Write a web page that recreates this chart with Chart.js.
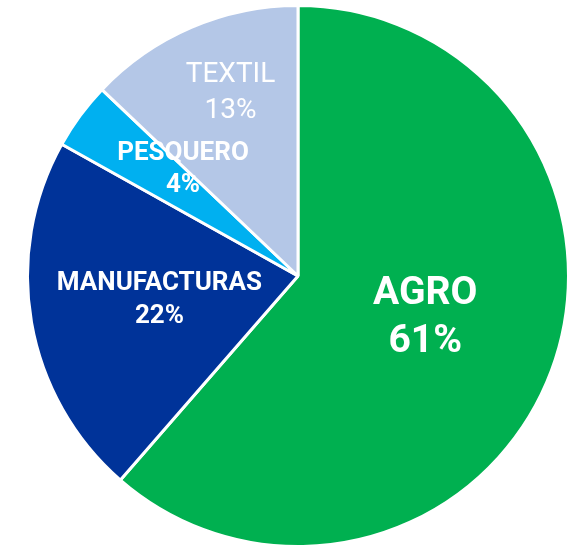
<!DOCTYPE html>
<html>
<head>
<meta charset="utf-8">
<script src="https://cdn.jsdelivr.net/npm/chart.js@4/dist/chart.umd.min.js"></script>
<style>
  body { margin: 0; background: #fff; }
  canvas { display: block; }
</style>
</head>
<body>
<canvas id="chart" width="580" height="548"></canvas>
<script>
const sectors = ["AGRO", "MANUFACTURAS", "PESQUERO", "TEXTIL"];
// shares; labels show them rounded
const shares = [61.4, 21.7, 4.0, 12.9];
const colors = ["#00B050", "#003399", "#00B0F0", "#B4C7E7"];

// label look per slice: font, line gap, radius fraction, angle nudge (deg)
const labelStyle = [
  { font: "bold 39px Roboto", gap: 48, r: 0.495, turn: -2.3 },
  { font: "bold 26px Roboto", gap: 33, r: 0.52, turn: 0 },
  { font: "bold 26px Roboto", gap: 32, r: 0.58, turn: 6.5 },
  { font: "28px Roboto", gap: 36, r: 0.722, turn: 3 },
];

const sliceLabels = {
  id: "sliceLabels",
  afterDatasetsDraw(chart) {
    const ctx = chart.ctx;
    const meta = chart.getDatasetMeta(0);
    meta.data.forEach((arc, i) => {
      const p = arc.getProps(["x", "y", "startAngle", "endAngle", "outerRadius"], true);
      const st = labelStyle[i];
      const mid = (p.startAngle + p.endAngle) / 2 + st.turn * Math.PI / 180;
      const cx = p.x + Math.cos(mid) * p.outerRadius * st.r;
      const cy = p.y + Math.sin(mid) * p.outerRadius * st.r;
      ctx.save();
      ctx.fillStyle = "#fff";
      ctx.font = st.font;
      ctx.textAlign = "center";
      ctx.textBaseline = "middle";
      ctx.fillText(sectors[i], cx, cy - st.gap / 2);
      ctx.fillText(Math.round(shares[i]) + "%", cx, cy + st.gap / 2);
      ctx.restore();
    });
  },
};

new Chart(document.getElementById("chart"), {
  type: "pie",
  data: {
    labels: sectors,
    datasets: [{
      data: shares,
      backgroundColor: colors,
      borderColor: "#fff",
      borderWidth: 3,
    }],
  },
  options: {
    responsive: false,
    animation: false,
    layout: { padding: { left: 16, right: 0, top: 4, bottom: 0 } },
    plugins: {
      legend: { display: false },
      tooltip: { enabled: false },
    },
  },
  plugins: [sliceLabels],
});
</script>
</body>
</html>
